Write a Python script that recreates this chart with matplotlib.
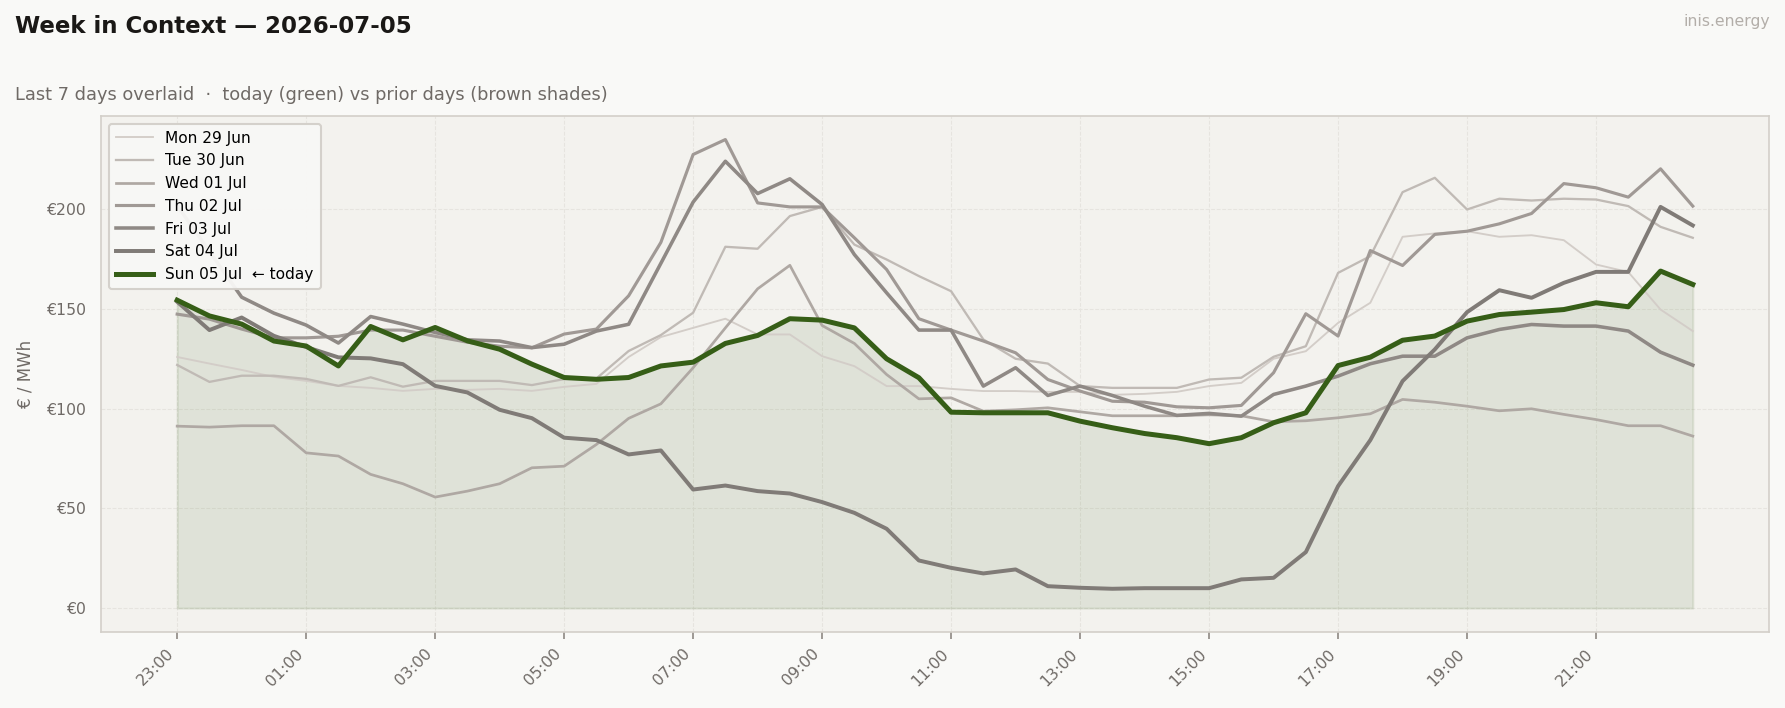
import numpy as np
import pandas as pd
import matplotlib
matplotlib.use("Agg")
import matplotlib.pyplot as plt

# half-hour slots, 23:00 (previous evening) through 22:30
slots = pd.date_range("2026-07-04 23:00", periods=48, freq="30min")

day_labels = ["Mon 29 Jun", "Tue 30 Jun", "Wed 01 Jul", "Thu 02 Jul",
              "Fri 03 Jul", "Sat 04 Jul", "Sun 05 Jul  \u2190 today"]

mon = [126, 122.7, 119.5, 116, 114, 111.5, 110.5, 109, 110, 109.5, 110, 109,
       111, 112.5, 126, 136, 140.6, 145.2, 137.3, 137.3, 126.4, 121.4, 111.4, 111.4,
       110, 108.9, 108.9, 108.5, 108.5, 107, 107.5, 108.5, 111.4, 113, 125.1, 128.9,
       143.1, 153.2, 186.3, 188, 189.1, 186.3, 187.1, 184.6, 172.4, 168.6, 149.8, 139]
tue = [122, 113.5, 116.6, 116.6, 115, 111.5, 115.8, 111.1, 114, 114, 114, 111.9,
       114.9, 115.2, 129, 137, 148.2, 181.3, 180.3, 196.7, 201.3, 182.4, 174.9, 166.6,
       159, 134.8, 125.1, 122.7, 111.4, 110.5, 110.5, 110.5, 114.7, 115.6, 126.1, 131.4,
       168.2, 176.6, 208.7, 215.9, 200, 205.4, 204.5, 205.4, 205, 201.7, 191.3, 185.8]
wed = [91.3, 90.8, 91.5, 91.5, 77.9, 76.3, 67.1, 62.4, 55.7, 58.7, 62.4, 70.4,
       71.2, 82.1, 95.2, 102.5, 120.6, 140.6, 160.2, 172, 141.8, 132.8, 117.2, 105,
       105.5, 98.8, 99.5, 100.5, 98.5, 96.5, 96.5, 96.5, 97, 96.5, 93.5, 94,
       95.5, 97.5, 104.7, 103.3, 101.3, 99, 100, 97.2, 94.6, 91.5, 91.5, 86.3]
thu = [147.5, 145, 140, 135.6, 135.6, 136.4, 139.5, 139.5, 136.4, 133.4, 131.4, 130.6,
       137.5, 140, 156.7, 183.5, 227.6, 235.1, 203.3, 201.3, 201.3, 185.8, 169.9, 145.2,
       139.5, 134, 128.1, 114.7, 108.9, 103.8, 103.3, 101, 100.5, 101.7, 118.1, 147.7,
       136.5, 179.4, 171.9, 187.5, 189.1, 192.8, 198, 213, 210.9, 206.2, 220.4, 201.7]
fri = [202, 179, 156, 148, 142, 133, 146.3, 142.5, 138.3, 134.6, 134, 130.7,
       132.4, 139, 142.4, 173, 203.7, 224.2, 208, 215.4, 202.5, 177.4, 158.2, 139.5,
       139.5, 111.4, 120.6, 106.7, 111.4, 106.7, 101.3, 96.7, 97.7, 96.3, 107.2, 111.4,
       116.4, 122.6, 126.4, 126.4, 135.6, 139.8, 142.3, 141.5, 141.5, 139, 128.4, 121.9]
sat = [153.7, 139.5, 145.8, 136.6, 131, 125.8, 125.3, 122.4, 111.5, 108.2, 99.5, 95.3,
       85.5, 84.3, 77.1, 79.1, 59.5, 61.5, 58.7, 57.5, 53.2, 47.8, 39.8, 23.9,
       20.2, 17.4, 19.4, 11, 10.2, 9.7, 10, 10, 10, 14.4, 15.2, 28.1,
       61.2, 84.3, 113.9, 129.8, 148.5, 159.5, 155.7, 163.2, 168.7, 168.7, 201.3, 192]
sun = [154.5, 146.6, 142.5, 134, 131.5, 121.5, 141.3, 134.6, 140.8, 134.1, 129.9, 122.4,
       115.7, 114.8, 115.7, 121.5, 123.4, 132.8, 136.8, 145.2, 144.5, 140.6, 125.1, 115.6,
       98.3, 98, 98, 98, 93.8, 90.5, 87.6, 85.5, 82.5, 85.5, 93, 98,
       121.7, 125.9, 134.4, 136.5, 144, 147.3, 148.5, 149.8, 153.2, 151.2, 169.1, 162.4]

prior = [mon, tue, wed, thu, fri, sat]
prior_colors = ["#d3cdc8", "#c0bab5", "#afa8a3", "#a09995", "#8f8985", "#807b77"]
prior_widths = [0.9, 1.1, 1.3, 1.5, 1.7, 1.9]
green = "#365e17"

fig = plt.figure(figsize=(11.9, 4.72), dpi=150, facecolor="#f9f9f7")
ax = fig.add_axes([0.0568, 0.108, 0.934, 0.728])
ax.set_facecolor("#f3f2ee")

for vals, lab, c, lw in zip(prior, day_labels[:6], prior_colors, prior_widths):
    ax.plot(slots, vals, color=c, lw=lw, label=lab, zorder=3)

ax.fill_between(slots, sun, 0, color=green, alpha=0.1, lw=1, zorder=2)
ax.plot(slots, sun, color=green, lw=2.4, label=day_labels[6], zorder=5)

ax.set_xticks(slots[::4])
ax.set_xticklabels([t.strftime("%H:%M") for t in slots[::4]], rotation=45, ha="right")
yt = [0, 50, 100, 150, 200]
ax.set_yticks(yt)
ax.set_yticklabels([f"\u20ac{v}" for v in yt])
ax.tick_params(axis="both", labelsize=7.5, colors="#6f6a66")
ax.tick_params(axis="x", color="#8d8883", length=3.5)
ax.tick_params(axis="y", length=0, pad=7)
ax.grid(True, color="#e6e4df", lw=0.5, ls="--", zorder=0)
for s in ax.spines.values():
    s.set_color("#d3cfc9")
ax.set_ylabel("\u20ac / MWh", fontsize=8, color="#6f6a66")
ax.yaxis.set_label_coords(-0.04, 0.5)

leg = ax.legend(loc="upper left", fontsize=7.4, frameon=True, facecolor="#f8f8f6",
                edgecolor="#d3cfc9", framealpha=0.95, handlelength=2.4,
                borderpad=0.45, labelspacing=0.5)

fig.text(0.0084, 0.963, "Week in Context \u2014 2026-07-05", fontsize=11,
         fontweight="bold", color="#1a1816", va="center", ha="left")
fig.text(0.0084, 0.866, "Last 7 days overlaid  \u00b7  today (green) vs prior days (brown shades)",
         fontsize=8.5, color="#6f6a66", va="center", ha="left")
fig.text(0.9917, 0.969, "inis.energy", fontsize=7.5, color="#b3aea9", va="center", ha="right")

fig.savefig("out.png", dpi=150, facecolor=fig.get_facecolor())
